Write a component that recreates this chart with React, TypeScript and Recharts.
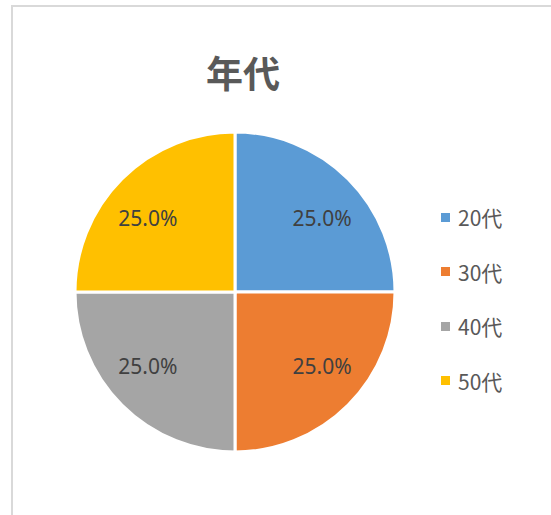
import React from 'react';
import { PieChart, Pie, Cell } from 'recharts';

const categories = ['20代', '30代', '40代', '50代'];
const values = [25, 25, 25, 25];
const colors = ['#5B9BD5', '#ED7D31', '#A5A5A5', '#FFC000'];

const data = categories.map((name, i) => ({ name, value: values[i] }));

const RADIAN = Math.PI / 180;
const FONT = '"Noto Sans", "Noto Sans CJK JP", sans-serif';

const renderLabel = (props: any) => {
  const { cx, cy, midAngle, outerRadius, percent } = props;
  const x = cx + outerRadius * 0.77 * Math.cos(-midAngle * RADIAN);
  const y = cy + outerRadius * 0.655 * Math.sin(-midAngle * RADIAN);
  return (
    <text
      x={x}
      y={y}
      fill="#404040"
      fontSize={21}
      fontFamily={FONT}
      textAnchor="middle"
      dominantBaseline="central"
    >
      {(percent * 100).toFixed(1)}%
    </text>
  );
};

// legend drawn beside the chart (a Recharts Legend would shift the pie)
const LegendBox = () => (
  <div style={{ position: 'absolute', left: 441, top: 190 }}>
    {categories.map((c, i) => (
      <div key={c} style={{ height: 54.5, display: 'flex', alignItems: 'center' }}>
        <span style={{ width: 9, height: 9, background: colors[i], display: 'inline-block' }} />
        <span
          style={{
            marginLeft: 8,
            fontSize: 21,
            fontFamily: '"Noto Sans CJK JP", "Noto Sans", sans-serif',
            color: '#595959',
          }}
        >
          {c}
        </span>
      </div>
    ))}
  </div>
);

export default function App() {
  return (
    <div
      style={{
        position: 'absolute',
        left: 0,
        top: 0,
        width: 551,
        height: 515,
        background: '#fff',
        overflow: 'hidden',
      }}
    >
      <div
        style={{
          position: 'absolute',
          left: 11,
          top: 5,
          width: 600,
          height: 600,
          border: '2px solid #d9d9d9',
        }}
      />
      <div
        style={{
          position: 'absolute',
          left: 143,
          width: 200,
          top: 50,
          textAlign: 'center',
          fontSize: 37,
          fontWeight: 'bold',
          color: '#595959',
          fontFamily: '"Noto Sans CJK JP", sans-serif',
          lineHeight: '44px',
        }}
      >
        年代
      </div>
      <div style={{ position: 'absolute', left: 0, top: 0 }}>
        <PieChart width={551} height={515} margin={{ top: 0, right: 0, bottom: 0, left: 0 }}>
          <Pie
            data={data}
            dataKey="value"
            nameKey="name"
            cx={235}
            cy={292}
            outerRadius={160}
            startAngle={90}
            endAngle={-270}
            stroke="#fff"
            strokeWidth={3}
            label={renderLabel}
            labelLine={false}
            isAnimationActive={false}
          >
            {data.map((d, i) => (
              <Cell key={d.name} fill={colors[i]} />
            ))}
          </Pie>
        </PieChart>
      </div>
      <LegendBox />
    </div>
  );
}
